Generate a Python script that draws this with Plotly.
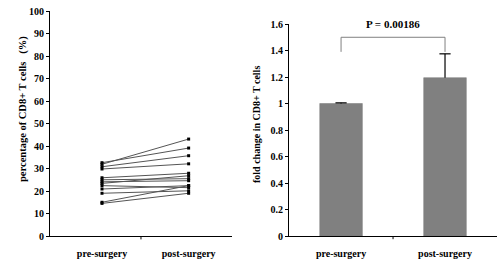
import plotly.graph_objects as go

# Left panel: paired percentages
groups = ["pre-surgery", "post-surgery"]
pre_vals = [32.6, 31.9, 30.8, 29.8, 25.9, 25.0, 24.1, 23.4, 22.4, 20.9, 19.0, 15.0, 14.5]
post_vals = [39.1, 43.1, 35.7, 32.1, 27.9, 25.5, 24.6, 26.8, 21.5, 22.4, 20.1, 22.4, 19.0]

# Right panel: fold change bars
fold_vals = [1.0, 1.195]
fold_err = [0.005, 0.18]
p_text = "P = 0.00186"

left_ticks = list(range(0, 101, 10))
right_ticks = [0, 0.2, 0.4, 0.6, 0.8, 1.0, 1.2, 1.4, 1.6]

left_title = "percentage of CD8+ T cells   (%)"
right_title = "fold change in CD8+ T cells"

FONT = "Liberation Serif"
fig = go.Figure()

for a, b in zip(pre_vals, post_vals):
    fig.add_trace(go.Scatter(
        x=[0, 1], y=[a, b], mode="lines+markers",
        line=dict(color="#555555", width=1),
        marker=dict(symbol="square", size=3, color="black"),
        showlegend=False, xaxis="x", yaxis="y", hoverinfo="skip"))

fig.add_trace(go.Bar(
    x=[0, 1], y=fold_vals, width=0.41,
    marker=dict(color="#808080", line=dict(color="#777777", width=0.5)),
    error_y=dict(type="data", array=fold_err, arrayminus=[0, 0], symmetric=False,
                 color="black", thickness=1.2, width=0),
    showlegend=False, xaxis="x2", yaxis="y2"))

# upper caps of the error bars
fig.add_trace(go.Scatter(
    x=[0, 1], y=[v + e for v, e in zip(fold_vals, fold_err)], mode="markers",
    marker=dict(symbol="line-ew", size=8, line=dict(color="black", width=1.2)),
    showlegend=False, xaxis="x2", yaxis="y2", hoverinfo="skip"))

axis_common = dict(showline=True, linecolor="black", linewidth=1, showgrid=False,
                   zeroline=False, mirror=False, automargin=False,
                   tickfont=dict(family=FONT, size=10, color="black"))

fig.update_layout(
    width=501, height=264,
    margin=dict(l=0, r=0, t=0, b=0),
    plot_bgcolor="white", paper_bgcolor="white",
    font=dict(family=FONT, color="black"),
    xaxis=dict(domain=[0.0998, 0.463], range=[-0.6, 1.5], tickvals=[0, 1],
               ticktext=["<b>%s</b>" % g for g in groups], ticks="",
               ticklabelstandoff=8, anchor="y", **axis_common),
    yaxis=dict(domain=[0.106, 0.958], range=[0, 100], tickvals=left_ticks,
               ticktext=["<b>%d</b>" % v for v in left_ticks],
               ticks="outside", ticklen=3, tickcolor="black", anchor="x",
               **axis_common),
    xaxis2=dict(domain=[0.577, 0.992], range=[-0.5, 1.5], tickvals=[0, 1],
                ticktext=["<b>%s</b>" % g for g in groups], ticks="",
                ticklabelstandoff=8, anchor="y2", **axis_common),
    yaxis2=dict(domain=[0.106, 0.909], range=[0, 1.6], tickvals=right_ticks,
                ticktext=["<b>%g</b>" % v for v in right_ticks],
                ticks="outside", ticklen=3, tickcolor="black", anchor="x2",
                **axis_common),
)

# axis titles as rotated annotations
fig.add_annotation(xref="paper", yref="paper", x=15 / 501, y=1 - 109 / 264,
                   text="<b>%s</b>" % left_title, textangle=-90, showarrow=False,
                   font=dict(family=FONT, size=10.5, color="black"))
fig.add_annotation(xref="paper", yref="paper", x=256 / 501, y=1 - 124 / 264,
                   text="<b>%s</b>" % right_title, textangle=-90, showarrow=False,
                   font=dict(family=FONT, size=10, color="black"))

# middle tick marks on category axes
for xr, yr, xm in [("x", "y domain", 0.45), ("x2", "y2 domain", 0.5)]:
    fig.add_shape(type="line", xref=xr, yref=yr, x0=xm, x1=xm, y0=0, y1=-0.015,
                  line=dict(color="black", width=1))

# significance bracket
fig.add_shape(type="path", xref="x2", yref="y2",
              path="M 0,1.39 L 0,1.5 L 1,1.5 L 1,1.39",
              line=dict(color="#808080", width=1))
fig.add_annotation(xref="x2", yref="y2", x=0.5, y=1.6, text="<b>%s</b>" % p_text,
                   showarrow=False, font=dict(family=FONT, size=11, color="black"))

fig.write_html("out.html", config={"displayModeBar": False},
               post_script="document.body.style.margin='0';document.body.style.overflow='hidden';")
